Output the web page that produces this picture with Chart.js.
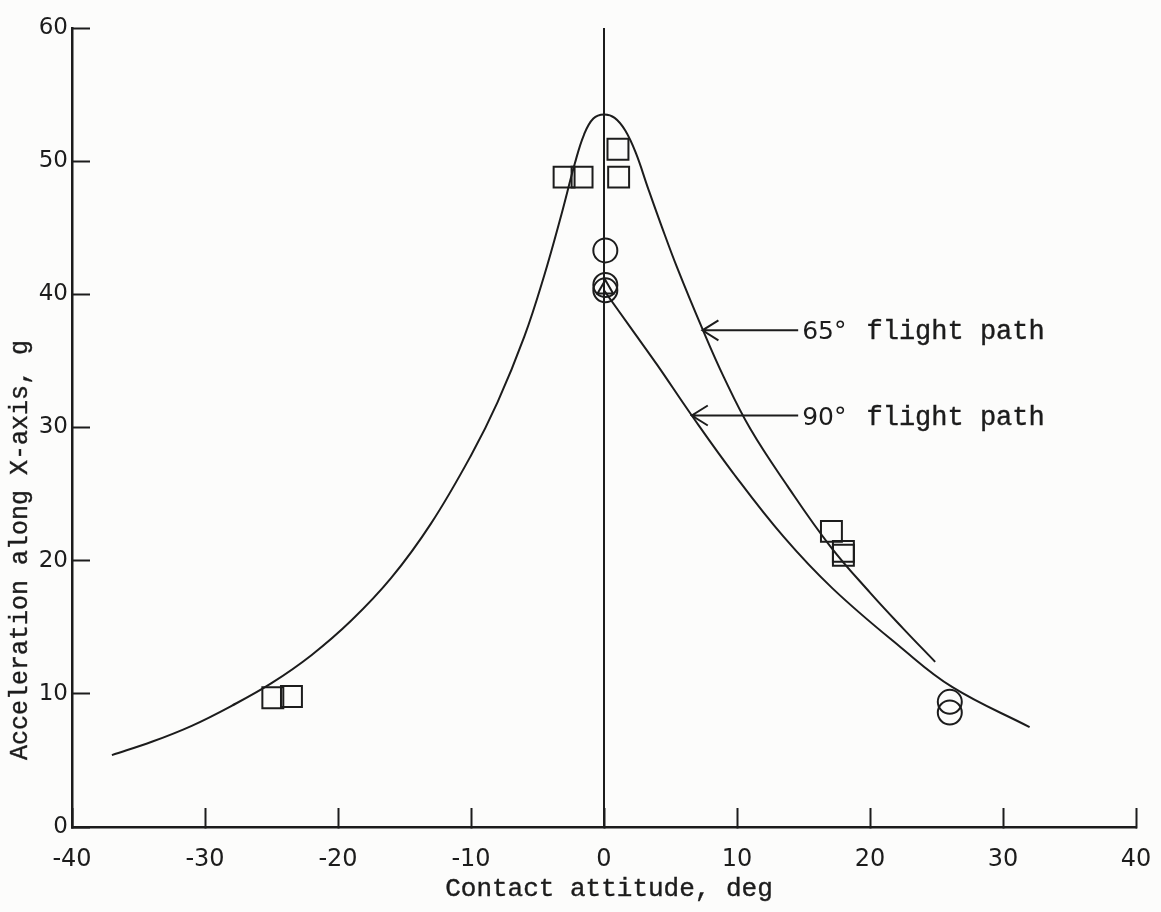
<!DOCTYPE html>
<html lang="en">
<head>
<meta charset="UTF-8">
<title>Acceleration along X-axis vs contact attitude</title>
<script src="https://cdn.jsdelivr.net/npm/chart.js"></script>
<style>
  body { margin: 0; background: #fcfcfb; }
  canvas { display: block; }
</style>
</head>
<body>
<canvas id="chart" width="1161" height="912"></canvas>
<script>
// faired curves, contact attitude (deg) vs acceleration (g)
const curve65X = [-37, -34, -31, -28, -25, -22, -19, -16, -13, -10, -8, -6, -4.5, -3.2, -2.2, -1.5, -0.8, 0, 0.8, 1.6, 2.4, 3.3, 4.3, 5.5, 7.4, 9.0, 11.0, 13.8, 17.0, 20.0, 22.5, 24.9];
const curve65Y = [5.4, 6.4, 7.6, 9.1, 10.8, 12.9, 15.5, 18.7, 22.8, 27.9, 31.9, 36.8, 41.4, 46.0, 49.8, 52.0, 53.2, 53.5, 53.25, 52.3, 50.6, 48.0, 45.2, 42.0, 37.4, 33.8, 29.9, 25.6, 21.1, 17.6, 14.9, 12.4];
const curve90X = [0, 2.0, 4.0, 6.6, 9.7, 13.5, 17.2, 22.3, 26.2, 32.0];
const curve90Y = [40.3, 37.5, 34.7, 30.9, 26.6, 21.8, 17.9, 13.5, 10.5, 7.5];

// test points
const squareX = [-3.0, -1.65, 1.05, 1.1, 17.1, 18.0, 18.0, -24.9, -23.5];
const squareY = [48.8, 48.8, 50.9, 48.8, 22.2, 20.7, 20.4, 9.7, 9.8];
const circleX = [0.1, 0.1, 0.1, 26.0, 26.0];
const circleY = [43.3, 40.7, 40.3, 9.4, 8.6];
const triangleX = [0.1];
const triangleY = [40.4];

const xTicks = [-40, -30, -20, -10, 0, 10, 20, 30, 40];
const yTicks = [0, 10, 20, 30, 40, 50, 60];

const xTitle = 'Contact attitude, deg';
const yTitle = 'Acceleration along X-axis, g';

const INK = '#1c1c1c';
const TYPE = '"Liberation Mono", "Courier New", monospace';
const HAND = '"DejaVu Sans", sans-serif';

function zip(xs, ys) {
    return xs.map((x, i) => ({ x: x, y: ys[i] }));
}

function curve(xs, ys) {
    return {
        data: zip(xs, ys),
        showLine: true,
        borderColor: INK,
        borderWidth: 2,
        pointRadius: 0,
        tension: 0.4
    };
}

function marks(xs, ys, style, radius) {
    return {
        data: zip(xs, ys),
        showLine: false,
        pointStyle: style,
        pointRadius: radius,
        pointBorderColor: INK,
        pointBackgroundColor: 'rgba(0,0,0,0)',
        pointBorderWidth: 2
    };
}

// typed text looks heavier than the plain font, so trace it once
function typed(ctx, text, x, y) {
    ctx.fillText(text, x, y);
    ctx.lineWidth = 0.4;
    ctx.strokeText(text, x, y);
    ctx.lineWidth = 2;
}

// arrows and labels pointing at the two curves
const notes = [
    { lead: '65°', rest: 'flight path', tipX: 7.4, tipY: 37.3 },
    { lead: '90°', rest: 'flight path', tipX: 6.6, tipY: 30.9 }
];
const noteLineEnd = 14.6;

const textPlugin = {
    id: 'textPlugin',
    afterDraw(chart) {
        let ctx = chart.ctx;
        let xs = chart.scales.x;
        let ys = chart.scales.y;
        let area = chart.chartArea;
        ctx.save();
        ctx.fillStyle = INK;
        ctx.strokeStyle = INK;
        ctx.lineWidth = 2;

        ctx.font = '26px ' + TYPE;
        ctx.textAlign = 'center';
        ctx.textBaseline = 'alphabetic';
        typed(ctx, xTitle, (area.left + area.right) / 2 + 5, area.bottom + 69);

        ctx.save();
        ctx.translate(20, ys.getPixelForValue(20.8));
        ctx.rotate(-Math.PI / 2);
        ctx.font = '25px ' + TYPE;
        ctx.textBaseline = 'middle';
        typed(ctx, yTitle, 0, 0);
        ctx.restore();

        notes.forEach(n => {
            let tx = xs.getPixelForValue(n.tipX);
            let ty = ys.getPixelForValue(n.tipY);
            let ex = xs.getPixelForValue(noteLineEnd);
            ctx.beginPath();
            ctx.moveTo(tx, ty);
            ctx.lineTo(ex, ty);
            ctx.moveTo(tx + 16, ty - 10);
            ctx.lineTo(tx, ty);
            ctx.lineTo(tx + 16, ty + 10);
            ctx.stroke();

            ctx.textAlign = 'left';
            ctx.textBaseline = 'alphabetic';
            ctx.font = '25px ' + HAND;
            ctx.fillText(n.lead, ex + 4, ty + 9);
            let w = ctx.measureText(n.lead).width;
            ctx.font = '27px ' + TYPE;
            typed(ctx, n.rest, ex + 4 + w + 20, ty + 9);
        });
        ctx.restore();
    }
};

new Chart(document.getElementById('chart').getContext('2d'), {
    type: 'scatter',
    data: {
        datasets: [
            curve(curve65X, curve65Y),
            curve(curve90X, curve90Y),
            curve([0, 0], [0, 60]),
            marks(squareX, squareY, 'rect', 14.8),
            marks(circleX, circleY, 'circle', 12),
            marks(triangleX, triangleY, 'triangle', 9)
        ]
    },
    options: {
        responsive: false,
        animation: false,
        layout: { padding: { left: 0, top: 28, right: 25, bottom: 0 } },
        plugins: {
            legend: { display: false },
            tooltip: { enabled: false }
        },
        scales: {
            x: {
                type: 'linear',
                min: -40,
                max: 40,
                afterBuildTicks: scale => { scale.ticks = xTicks.map(v => ({ value: v })); },
                afterFit: scale => {
                    scale.height = 85;
                    scale.paddingLeft = 0;
                    scale.paddingRight = 0;
                },
                ticks: {
                    padding: 37,
                    color: INK,
                    font: { family: HAND, size: 24 }
                },
                grid: {
                    drawOnChartArea: false,
                    tickLength: -19,
                    tickWidth: 2,
                    tickColor: INK
                },
                border: { display: true, color: INK, width: 2.5 }
            },
            y: {
                type: 'linear',
                min: 0,
                max: 60,
                afterBuildTicks: scale => { scale.ticks = yTicks.map(v => ({ value: v })); },
                afterFit: scale => {
                    scale.width = 72;
                    scale.paddingTop = 0;
                    scale.paddingBottom = 0;
                },
                ticks: {
                    padding: 22,
                    color: INK,
                    font: { family: HAND, size: 23 }
                },
                grid: {
                    drawOnChartArea: false,
                    tickLength: -18,
                    tickWidth: 2,
                    tickColor: INK
                },
                border: { display: true, color: INK, width: 2.5 }
            }
        }
    },
    plugins: [textPlugin]
});
</script>
</body>
</html>
